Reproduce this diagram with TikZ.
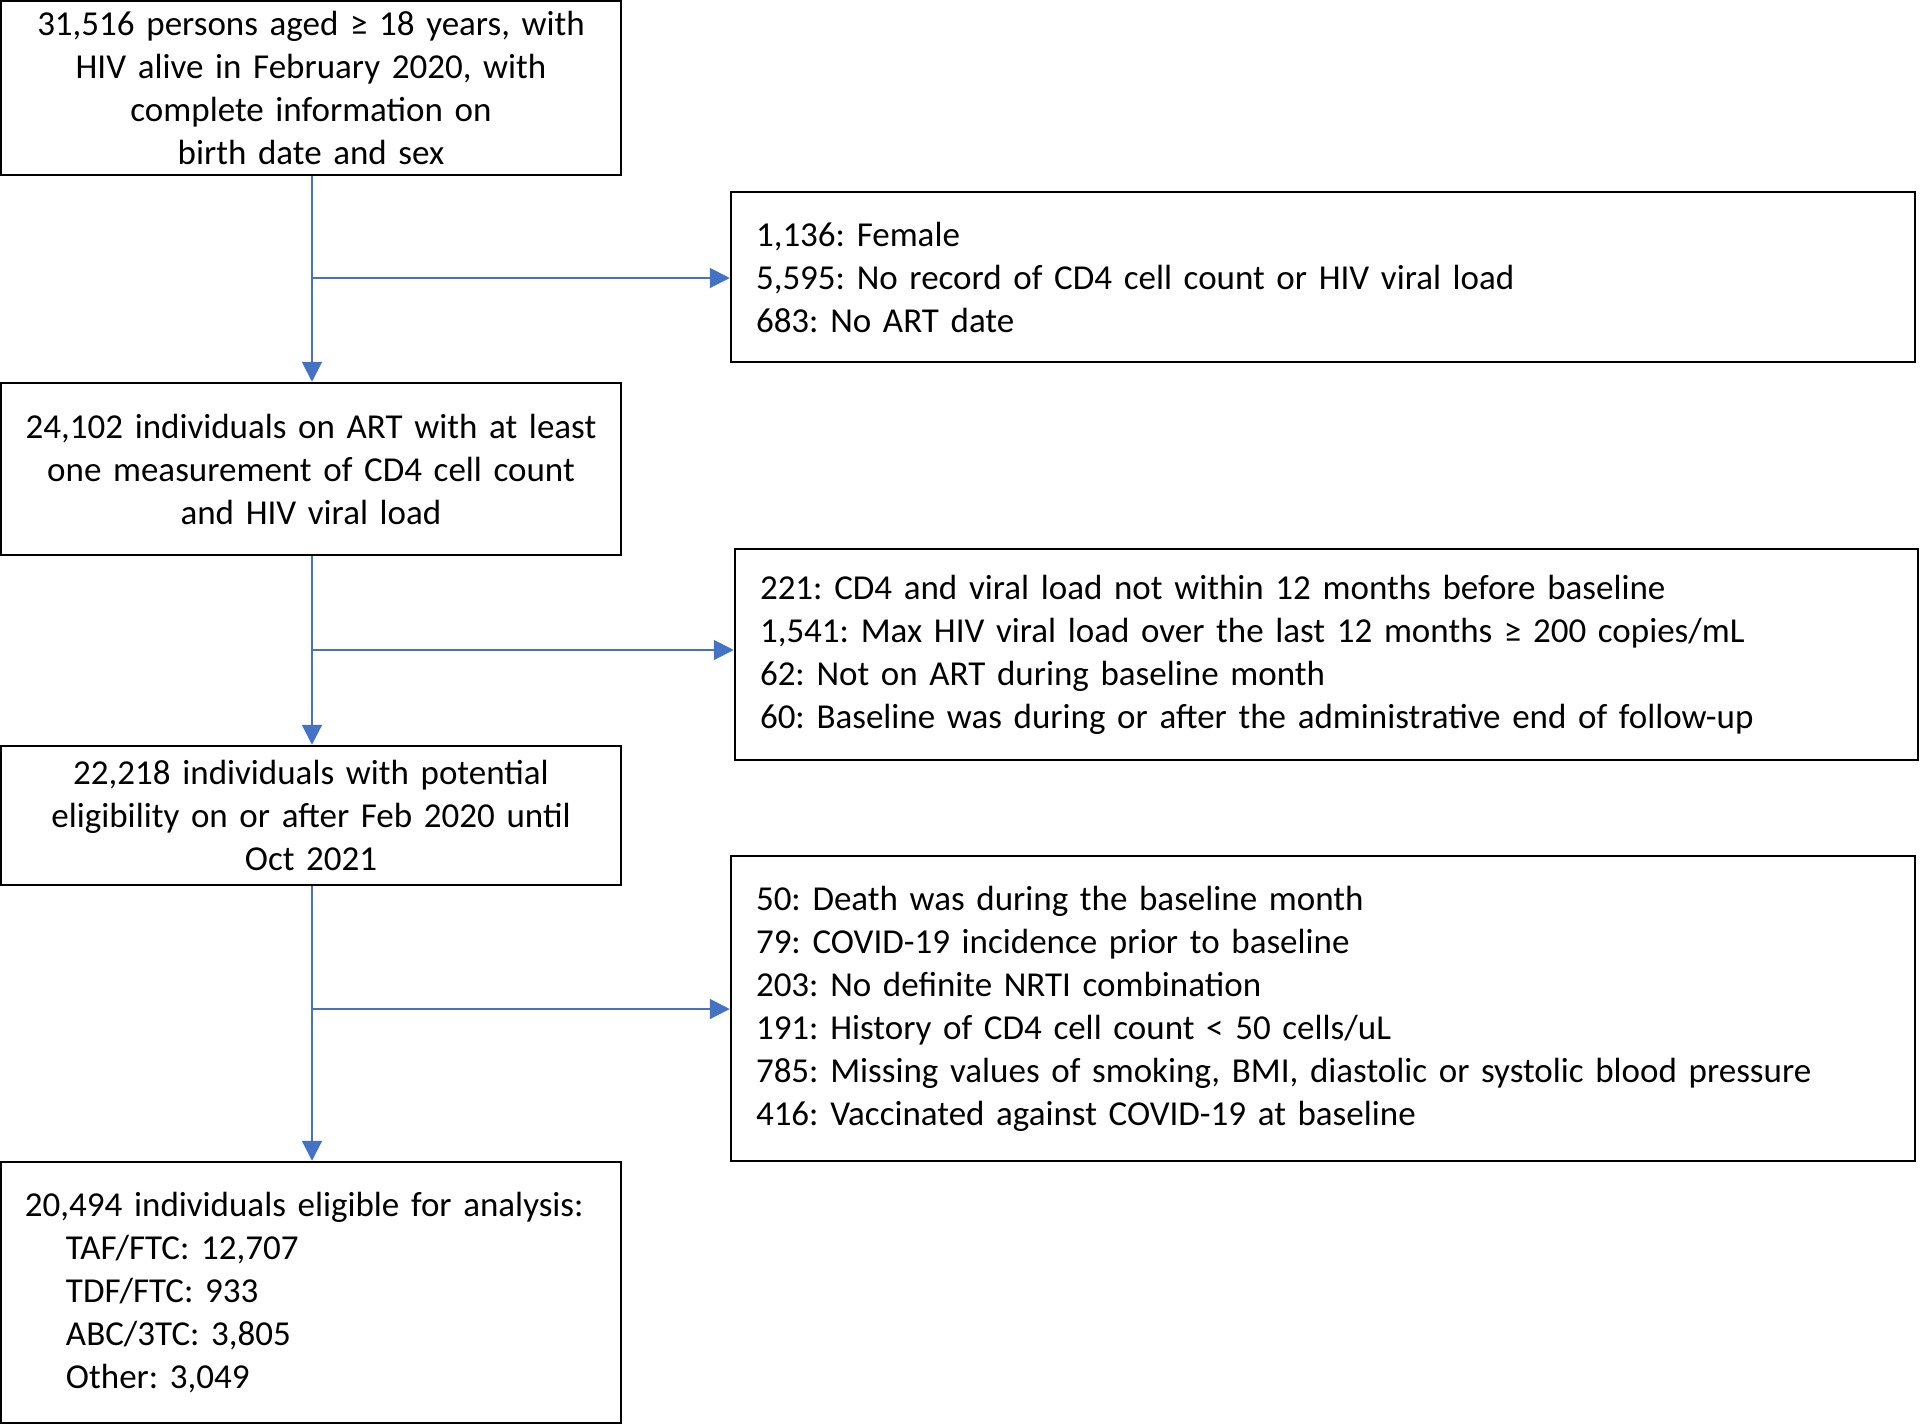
\documentclass[tikz,border=0pt]{standalone}
\usepackage{fontspec}
\setmainfont{Carlito}
\usetikzlibrary{arrows.meta}
\definecolor{arrblue}{HTML}{4472C4}
\frenchspacing
\hyphenpenalty=10000
\tikzset{
  box/.style={draw=black, line width=2.5pt, rectangle, font=\fontsize{35}{43}\selectfont},
  lbox/.style={box, minimum width=620pt, text width=600pt, inner xsep=10pt, align=center},
  rbox/.style={box, minimum width=1184pt, text width=1134pt, inner xsep=25pt, align=left},
  arr/.style={draw=arrblue, line width=2pt, -{Triangle[length=20pt,width=20pt]}, arrblue}
}
\begin{document}
\begin{tikzpicture}[x=1pt,y=-1pt]
\useasboundingbox (0,0) rectangle (1920,1425);
\node[lbox, minimum height=174pt] (b1) at (311,88) {31,516 persons aged ≥ 18 years, with\\HIV alive in February 2020, with\\complete information on\\birth date and sex};
\node[rbox, minimum height=170pt] (r1) at (1323,277) {1,136: Female\\5,595: No record of CD4 cell count or HIV viral load\\683: No ART date};
\node[lbox, minimum height=172pt] (b2) at (311,469) {24,102 individuals on ART with at least\\one measurement of CD4 cell count\\and HIV viral load};
\node[rbox, minimum width=1183pt, text width=1133pt, minimum height=211pt] (r2) at (1326.5,654.5) {221: CD4 and viral load not within 12 months before baseline\\1,541: Max HIV viral load over the last 12 months ≥ 200 copies/mL\\62: Not on ART during baseline month\\60: Baseline was during or after the administrative end of follow-up};
\node[lbox, minimum height=139pt] (b3) at (311,815.5) {22,218 individuals with potential\\eligibility on or after Feb 2020 until\\Oct 2021};
\node[rbox, minimum height=305pt] (r3) at (1323,1008.5) {50: Death was during the baseline month\\79: COVID-19 incidence prior to baseline\\203: No definite NRTI combination\\191: History of CD4 cell count < 50 cells/uL\\785: Missing values of smoking, BMI, diastolic or systolic blood pressure\\416: Vaccinated against COVID-19 at baseline};
\node[box, minimum width=620pt, text width=604pt, inner xsep=8pt, align=left, minimum height=261pt] (b4) at (311,1292.5) {\hspace*{16pt}20,494 individuals eligible for analysis:\\\hspace*{57pt}TAF/FTC: 12,707\\\hspace*{57pt}TDF/FTC: 933\\\hspace*{57pt}ABC/3TC: 3,805\\\hspace*{57pt}Other: 3,049};
% connectors
\coordinate (j1) at (312,278);
\coordinate (j2) at (312,650);
\coordinate (j3) at (312,1009);
\draw[arr] (b1.south -| j1) -- (b2.north -| j1);
\draw[arr] (b2.south -| j2) -- (b3.north -| j2);
\draw[arr] (b3.south -| j3) -- (b4.north -| j3);
\draw[arr] (j1) -- (j1 -| r1.west);
\draw[arr] (j2) -- (j2 -| r2.west);
\draw[arr] (j3) -- (j3 -| r3.west);
\end{tikzpicture}
\end{document}
